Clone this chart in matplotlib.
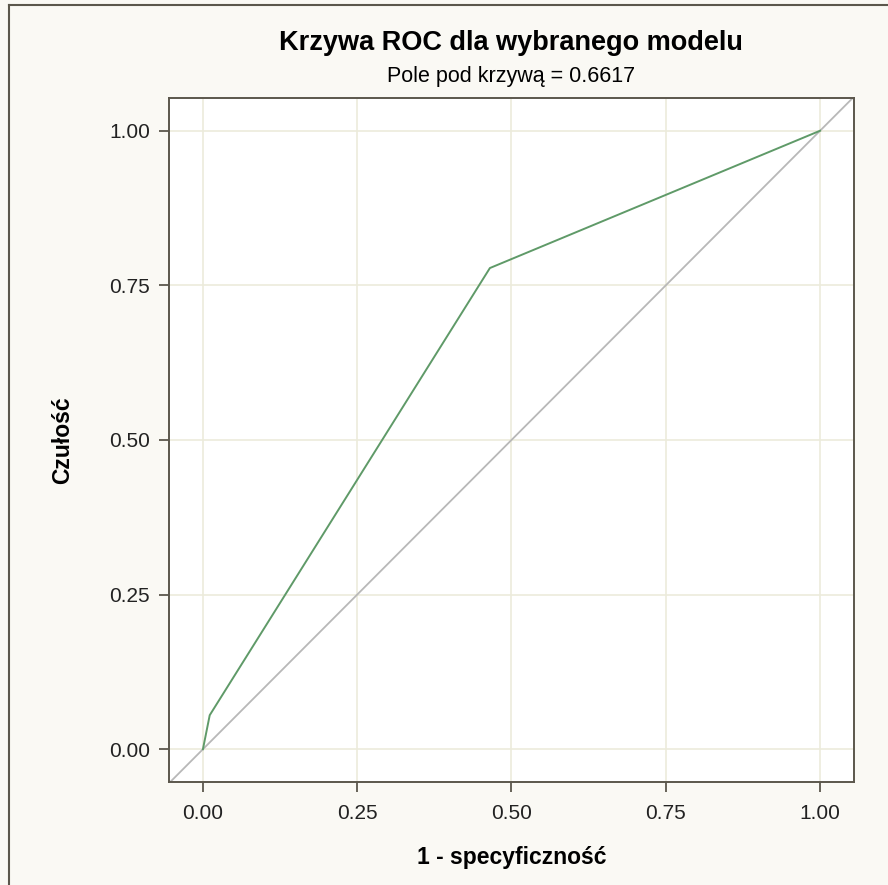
import matplotlib
matplotlib.use("Agg")
import matplotlib.pyplot as plt
from matplotlib.lines import Line2D

# punkty krzywej ROC (1 - specyficzność, czułość)
fpr = [0.0, 0.011, 0.465, 1.0]
tpr = [0.0, 0.055, 0.778, 1.0]
auc = 0.6617
ticks = [0.0, 0.25, 0.5, 0.75, 1.0]
tick_labels = ["0.00", "0.25", "0.50", "0.75", "1.00"]

plt.rcParams["font.family"] = ["Liberation Sans", "DejaVu Sans"]

bg = "#faf9f4"
edge = "#5b574c"
grid_col = "#ecebdc"

fig = plt.figure(figsize=(8.88, 8.85), dpi=100, facecolor=bg)
ax = fig.add_axes([0.1903, 0.1164, 0.7714, 0.7729])
ax.set_facecolor("white")

ax.set_xlim(-0.055, 1.055)
ax.set_ylim(-0.053, 1.053)
ax.set_xticks(ticks)
ax.set_xticklabels(tick_labels)
ax.set_yticks(ticks)
ax.set_yticklabels(tick_labels)
ax.grid(True, color=grid_col, lw=1.2)
ax.set_axisbelow(True)

ax.axline((0, 0), (1, 1), color="#b8b8b8", lw=1.3, zorder=2)
ax.plot(fpr, tpr, color="#5f9a68", lw=1.4, zorder=3)

for s in ax.spines.values():
    s.set_color(edge)
    s.set_linewidth(1.4)
ax.tick_params(length=7.5, width=1.3, color=edge, labelsize=15,
               labelcolor="#222222")
ax.tick_params(axis="x", pad=8.5)
ax.tick_params(axis="y", pad=6)

ax.set_xlabel("1 - specyficzność", fontsize=16.5, fontweight="bold", va="center")
ax.xaxis.set_label_coords(0.5, -0.110)
ax.set_ylabel("Czułość", fontsize=16.5, fontweight="bold", va="center")
ax.yaxis.set_label_coords(-0.155, 0.5)

fig.text(0.5755, 0.951, "Krzywa ROC dla wybranego modelu", ha="center",
         va="center", fontsize=19.5, fontweight="bold")
fig.text(0.5755, 0.913, f"Pole pod krzywą = {auc:.4f}", ha="center",
         va="center", fontsize=15.5)

# ramka tylko z lewej i u góry
fig.add_artist(Line2D([0.0101, 0.0101], [0, 0.9944], transform=fig.transFigure,
                      color=edge, lw=1.5))
fig.add_artist(Line2D([0.0101, 1], [0.9944, 0.9944], transform=fig.transFigure,
                      color=edge, lw=1.5))

fig.savefig("out.png", dpi=100, facecolor=bg)
